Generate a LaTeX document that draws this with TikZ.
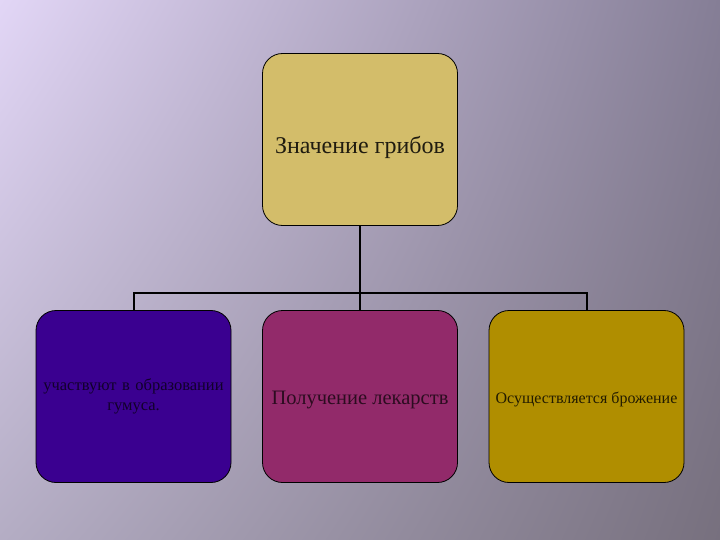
\documentclass[tikz,border=0pt]{standalone}
\usepackage{fontspec}
\setmainfont{Liberation Serif}
\usetikzlibrary{shadings}

\definecolor{bgTL}{HTML}{E2D6F6}
\definecolor{bgTR}{HTML}{857E96}
\definecolor{bgBL}{HTML}{B4ADC4}
\definecolor{bgBR}{HTML}{77707E}
\definecolor{tanbox}{HTML}{D3BD6A}
\definecolor{indigobox}{HTML}{3A0090}
\definecolor{plumbox}{HTML}{922A6A}
\definecolor{olivebox}{HTML}{B08E00}

\newcommand{\lowered}[2]{\raisebox{-#1}[\height][\depth]{#2}}

\tikzset{
	card/.style={draw=black, line width=0.8pt, rounded corners=20pt,
		minimum width=195pt, minimum height=172pt, inner sep=1pt,
		align=center, font=\fontsize{16.5}{20}\selectfont},
	link/.style={line width=2pt, black}
}

\begin{document}
\begin{tikzpicture}[x=1pt, y=-1pt]
	% background
	\shade[upper left=bgTL, upper right=bgTR, lower left=bgBL, lower right=bgBR]
		(0, 0) rectangle (720, 540);
	\useasboundingbox (0, 0) rectangle (720, 540);

	% top box
	\node[card, fill=tanbox, text=black!85!tanbox, font=\fontsize{24}{28}\selectfont]
		(znach) at (360, 139.5) {\lowered{8pt}{Значение грибов}};

	% lower boxes
	\node[card, fill=indigobox, text=black!70!indigobox, text width=193pt]
		(gumus) at (133.5, 396.5) {участвуют в образовании\\гумуса.};
	\node[card, fill=plumbox, text=black!70!plumbox, font=\fontsize{20.5}{24}\selectfont]
		(lekar) at (360, 396.5) {\lowered{3pt}{Получение лекарств}};
	\node[card, fill=olivebox, text=black!80!olivebox, font=\fontsize{16}{20}\selectfont]
		(brozh) at (586.5, 396.5) {\lowered{3pt}{Осуществляется брожение}};

	% connectors
	\coordinate (bus) at (360, 293);
	\draw[link] (znach.south) -- (bus);
	\draw[link] (gumus.north) |- (bus) -| (brozh.north);
	\draw[link] (bus) -- (lekar.north);
\end{tikzpicture}
\end{document}
